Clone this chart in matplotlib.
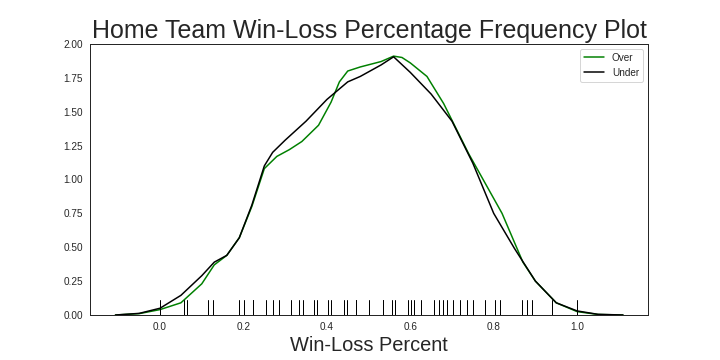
import matplotlib
matplotlib.use("Agg")
import matplotlib.pyplot as plt
import seaborn as sns

sns.set_style("white")
plt.rcParams['font.family'] = ['Liberation Sans', 'DejaVu Sans']

# Curve values (Win-Loss percent vs density)
over_x = [-0.107, -0.05, 0.0, 0.05, 0.10, 0.13, 0.16, 0.19, 0.22, 0.25, 0.28, 0.31, 0.34, 0.38,
          0.41, 0.43, 0.45, 0.48, 0.53, 0.56, 0.58, 0.60, 0.64, 0.68, 0.74, 0.78, 0.82, 0.87,
          0.90, 0.95, 1.00, 1.05, 1.11]
over_y = [0.0, 0.01, 0.04, 0.09, 0.23, 0.37, 0.44, 0.57, 0.80, 1.08, 1.17, 1.22, 1.28, 1.40,
          1.57, 1.72, 1.80, 1.83, 1.87, 1.91, 1.90, 1.86, 1.76, 1.56, 1.19, 0.97, 0.75, 0.39,
          0.25, 0.09, 0.025, 0.004, 0.0]

under_x = [-0.107, -0.05, 0.0, 0.05, 0.10, 0.13, 0.16, 0.19, 0.22, 0.25, 0.27, 0.30, 0.35,
           0.40, 0.45, 0.48, 0.53, 0.56, 0.60, 0.65, 0.70, 0.75, 0.80, 0.85, 0.90, 0.95,
           1.00, 1.05, 1.11]
under_y = [0.0, 0.012, 0.05, 0.145, 0.29, 0.39, 0.44, 0.57, 0.81, 1.10, 1.20, 1.29, 1.43,
           1.59, 1.72, 1.76, 1.845, 1.905, 1.79, 1.63, 1.43, 1.12, 0.75, 0.49, 0.25, 0.09,
           0.03, 0.005, 0.0]

rug_values = [0.0, 0.058, 0.064, 0.114, 0.128, 0.19, 0.201, 0.222, 0.222, 0.253, 0.27, 0.284,
              0.315, 0.333, 0.343, 0.369, 0.376, 0.402, 0.410, 0.441, 0.448, 0.470, 0.470,
              0.502, 0.534, 0.534, 0.557, 0.564, 0.595, 0.601, 0.608, 0.626, 0.658, 0.669,
              0.678, 0.689, 0.702, 0.719, 0.735, 0.751, 0.779, 0.802, 0.815, 0.869, 0.879,
              0.891, 0.941, 1.0]

labels = ["Over", "Under"]

fig = plt.figure(figsize=(10, 5), dpi=72)
ax = fig.add_axes([0.125, 0.125, 0.775, 0.753])

ax.plot(over_x, over_y, color="green", lw=1.5, label=labels[0])
ax.plot(under_x, under_y, color="black", lw=1.5, label=labels[1])
for v in rug_values:
    ax.axvline(v, ymin=0, ymax=0.055, color="black", lw=1)

ax.set_xlim(-0.168, 1.17)
ax.set_ylim(0, 2.0)
ax.set_xticks([0.0, 0.2, 0.4, 0.6, 0.8, 1.0])
ax.set_yticks([0.0, 0.25, 0.5, 0.75, 1.0, 1.25, 1.5, 1.75, 2.0])
ax.set_yticklabels(["0.00", "0.25", "0.50", "0.75", "1.00", "1.25", "1.50", "1.75", "2.00"])
ax.tick_params(labelsize=10, colors="#262626")
for s in ax.spines.values():
    s.set_color("#262626")
    s.set_linewidth(1)

ax.set_title("Home Team Win-Loss Percentage Frequency Plot", fontsize=25, color="#262626")
ax.set_xlabel("Win-Loss Percent", fontsize=20, color="#262626")
ax.legend(loc="upper right", frameon=True, fontsize=10)

fig.savefig("out.png", dpi=72)
